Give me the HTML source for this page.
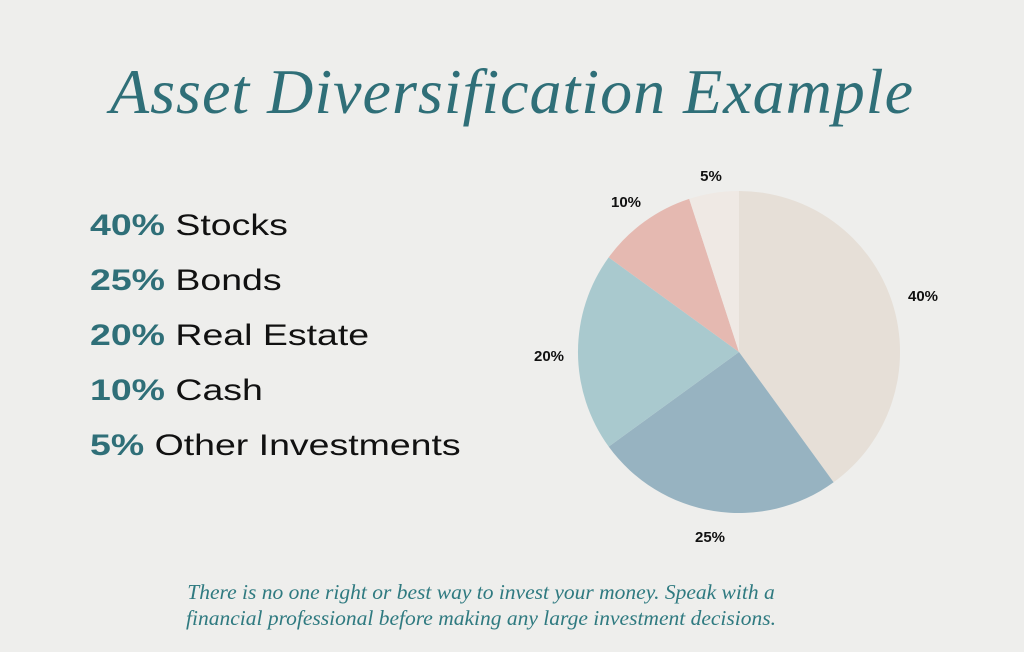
<!DOCTYPE html>
<html><head><meta charset="utf-8"><style>
body{margin:0;width:1024px;height:652px;background:#eeeeec;overflow:hidden;position:relative;font-family:"Liberation Sans",sans-serif}
.t{position:absolute;left:0;width:1024px;text-align:center;top:55px;font-family:"Liberation Serif",serif;font-style:italic;font-size:64px;color:#2f6f78;letter-spacing:1px}
.l{position:absolute;left:90px;font-size:29.5px;color:#111;white-space:nowrap;transform:scaleX(1.27);transform-origin:0 0}
.l b{color:#2f6f78}
.f{position:absolute;left:0;width:962px;text-align:center;top:579px;font-family:"Liberation Serif",serif;font-style:italic;font-size:21.5px;line-height:26px;color:#2f7a80}
</style></head><body>
<div class="t">Asset Diversification Example</div>
<div class="l" style="top:209px"><b>40%</b> Stocks</div>
<div class="l" style="top:264px"><b>25%</b> Bonds</div>
<div class="l" style="top:319px"><b>20%</b> Real Estate</div>
<div class="l" style="top:374px"><b>10%</b> Cash</div>
<div class="l" style="top:429px"><b>5%</b> Other Investments</div>
<svg width="1024" height="652" style="position:absolute;left:0;top:0">
<path d="M739,352 L739,191 A161,161 0 0 1 833.6,482.3 Z" fill="#e6dfd7"/>
<path d="M739,352 L833.6,482.3 A161,161 0 0 1 608.7,446.6 Z" fill="#97b3c1"/>
<path d="M739,352 L608.7,446.6 A161,161 0 0 1 608.7,257.4 Z" fill="#a9c9ce"/>
<path d="M739,352 L608.7,257.4 A161,161 0 0 1 689.2,198.9 Z" fill="#e5b9b1"/>
<path d="M739,352 L689.2,198.9 A161,161 0 0 1 739,191 Z" fill="#efe9e4"/>
<g font-family="Liberation Sans,sans-serif" font-weight="bold" font-size="15" fill="#111" text-anchor="middle">
<text x="711" y="181">5%</text>
<text x="626" y="207">10%</text>
<text x="923" y="301">40%</text>
<text x="549" y="361">20%</text>
<text x="710" y="542">25%</text>
</g>
</svg>
<div class="f">There is no one right or best way to invest your money. Speak with a<br>financial professional before making any large investment decisions.</div>
</body></html>
